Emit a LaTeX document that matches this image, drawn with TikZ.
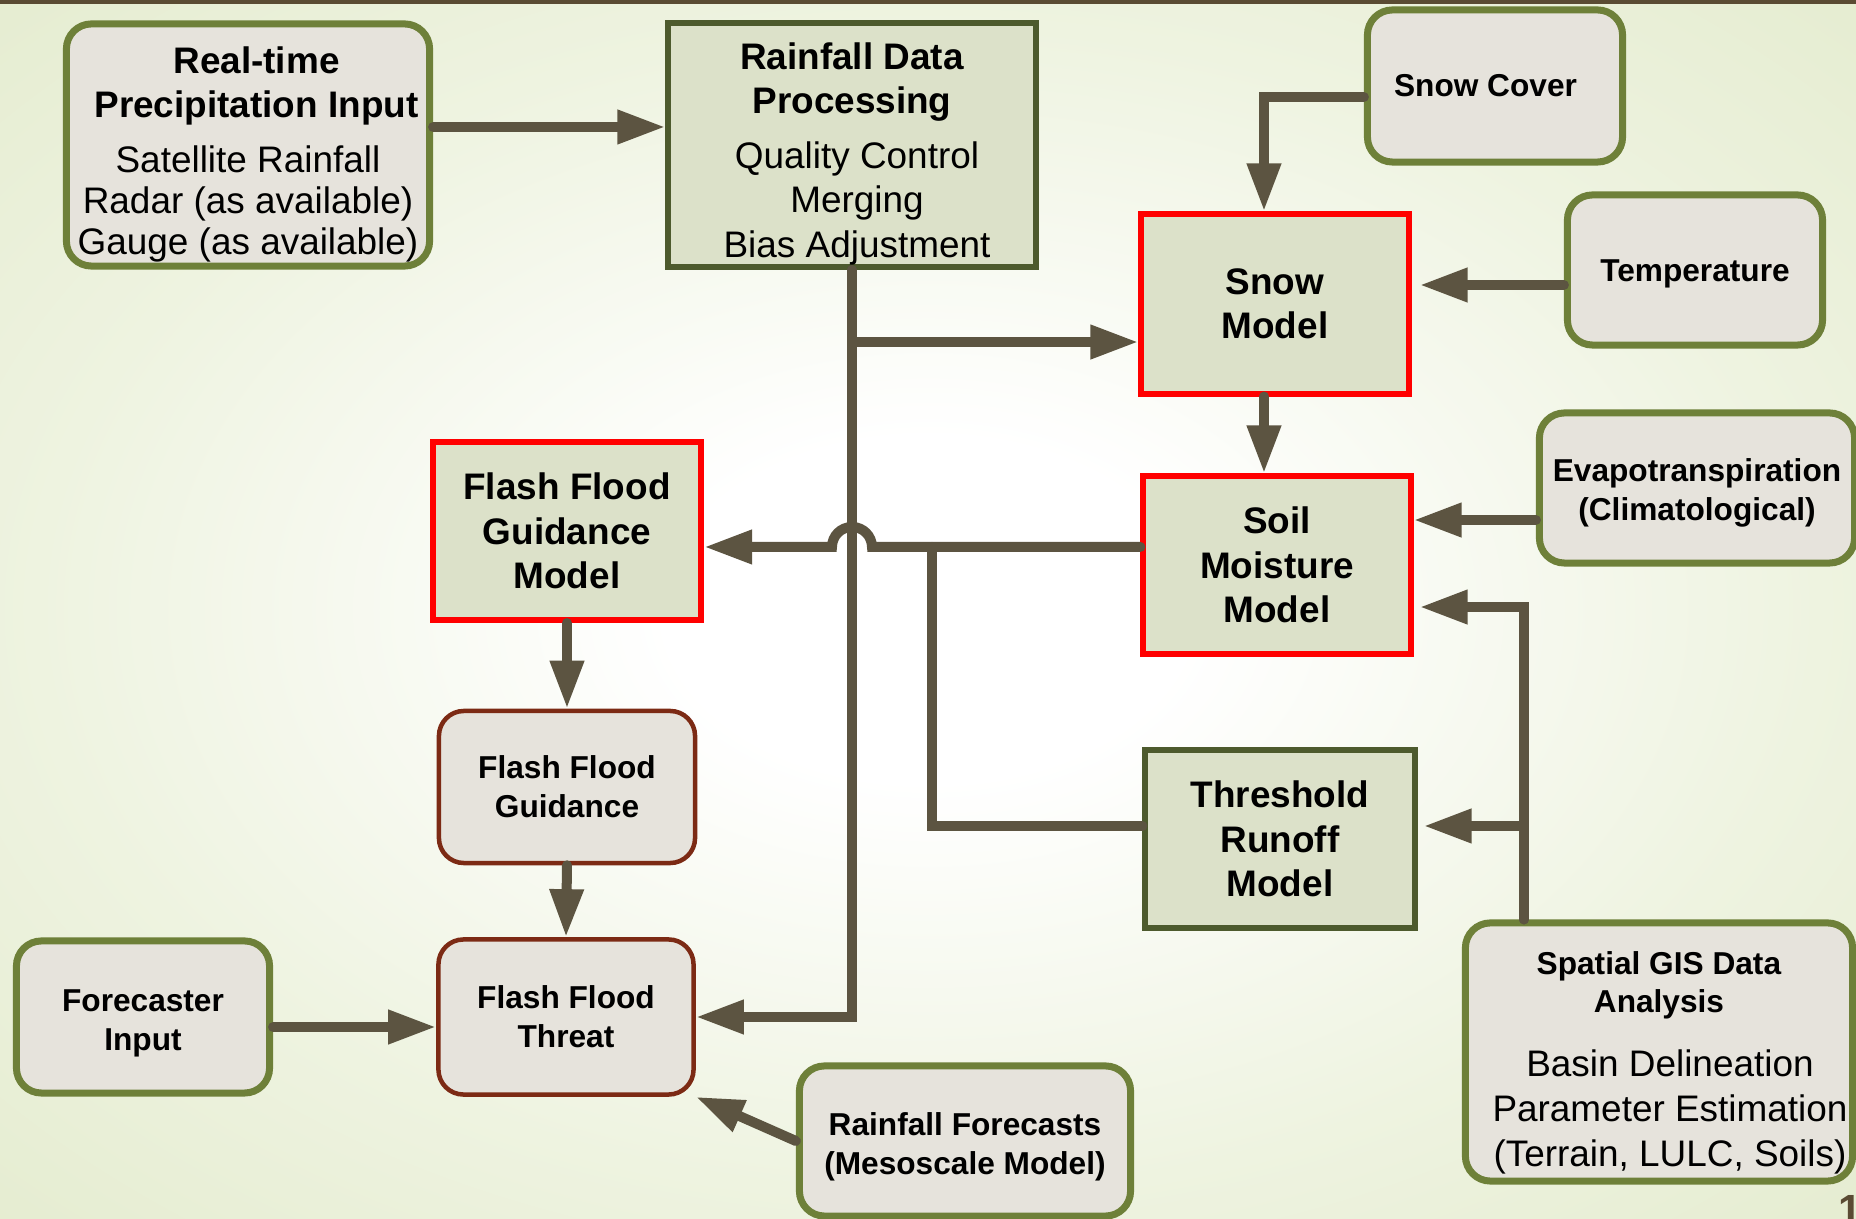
\documentclass[tikz,border=0pt]{standalone}
\usepackage{fontspec}
\setmainfont{Liberation Sans}
\usepackage{xcolor}
\usepackage{tikz}
\usetikzlibrary{arrows.meta,
positioning,
calc}

\definecolor{boxline}{HTML}{6E8039}
\definecolor{boxfill}{HTML}{E6E3DC}
\definecolor{modelline}{HTML}{4D5A2D}
\definecolor{modelfill}{HTML}{DCE1C9}
\definecolor{threatline}{HTML}{7C2A14}
\definecolor{flowcol}{HTML}{5C5441}
\definecolor{topbar}{HTML}{5A4B33}
\definecolor{bglight}{HTML}{EEF3E0}
\definecolor{bgmid}{HTML}{E2EACB}
\definecolor{bggreen}{HTML}{DAE4BB}

\pgfdeclareradialshading{bgglow}{\pgfpoint{0bp}{0bp}}{%
	color(0bp)=(white); color(7bp)=(white); color(24bp)=(bglight);
	color(40bp)=(bgmid); color(50bp)=(bggreen)}

\begin{document}
\begin{tikzpicture}[
		x=0.01cm, y=-0.01cm,
		>={Triangle[length=0.48cm,width=0.32cm]},
		datain/.style={
			draw=boxline,
			fill=boxfill,
			line width=0.07cm,
			rounded corners=0.25cm,
			align=center,
			inner sep=0pt,
			font=\fontsize{9}{11}\selectfont\bfseries
		},
		modelbox/.style={
			draw=modelline,
			fill=modelfill,
			line width=0.06cm,
			align=center,
			inner sep=0pt,
			font=\fontsize{10.5}{12.6}\selectfont\bfseries
		},
		keymodel/.style={
			modelbox,
			draw=red
		},
		product/.style={
			datain,
			draw=threatline,
			line width=0.045cm
		},
		flow/.style={->, draw=flowcol, line width=0.1cm, line cap=round},
		link/.style={flow, -}
		]
		
		% Background
		\shade[shading=bgglow] (0,0) rectangle (1856,1219);
		\fill[topbar] (0,0) rectangle (1856,4);
		\useasboundingbox (0,0) rectangle (1856,1219);
		
		% Inputs
		\node[datain, minimum width=3.63cm, minimum height=2.42cm,
			font=\fontsize{10.5}{12.6}\selectfont] (precip) at (248,145)
		{\rule{0pt}{0.45cm}\hspace*{0.17cm}\textbf{Real-time}\\\hspace*{0.17cm}\textbf{Precipitation Input}\\[3.1pt]Satellite Rainfall\\[-1pt]Radar (as available)\\[-1pt]Gauge (as available)};
		
		\node[modelbox, minimum width=3.67cm, minimum height=2.44cm,
			font=\fontsize{10.5}{12.6}\selectfont] (rainproc) at (852,145)
		{\rule{0pt}{0.44cm}\textbf{Rainfall Data}\\\textbf{Processing}\\[3pt]\hspace*{0.1cm}Quality Control\\\hspace*{0.1cm}Merging\\\hspace*{0.1cm}Bias Adjustment};
		
		\node[datain, minimum width=2.55cm, minimum height=1.52cm] (snowcov) at (1495,86) {Snow Cover\hspace*{0.19cm}};
		\node[datain, minimum width=2.55cm, minimum height=1.50cm] (temp) at (1695,270) {\rule{0pt}{0.30cm}Temperature};
		\node[datain, minimum width=3.15cm, minimum height=1.50cm] (evapo) at (1697,488)
		{\rule{0pt}{0.33cm}Evapotranspiration\\(Climatological)};
		
		% Models
		\node[keymodel, minimum width=2.67cm, minimum height=1.79cm] (snowmod) at (1275,304) {Snow\\Model};
		\node[keymodel, minimum width=2.67cm, minimum height=1.77cm] (soilmod) at (1277,565) {Soil\\Moisture\\Model};
		\node[keymodel, minimum width=2.68cm, minimum height=1.78cm] (ffgmod) at (567,531) {Flash Flood\\Guidance\\Model};
		\node[modelbox, minimum width=2.69cm, minimum height=1.78cm] (runoff) at (1280,839) {Threshold\\Runoff\\Model};
		
		% Products
		\node[product, minimum width=2.56cm, minimum height=1.52cm] (ffg) at (567,787) {Flash Flood\\Guidance};
		\node[product, minimum width=2.55cm, minimum height=1.55cm] (threat) at (566,1017) {Flash Flood\\Threat};
		
		% Other inputs
		\node[datain, minimum width=2.53cm, minimum height=1.52cm] (forecaster) at (143,1017) {\rule{0pt}{0.35cm}Forecaster\\Input};
		\node[datain, minimum width=3.31cm, minimum height=1.50cm] (nwp) at (965,1141)
		{\rule{0pt}{0.35cm}Rainfall Forecasts\\(Mesoscale Model)};
		\node[datain, minimum width=3.87cm, minimum height=2.58cm,
			font=\fontsize{10.5}{12.8}\selectfont] (gis) at (1659,1052)
		{\rule{0pt}{0.45cm}\textbf{\fontsize{9}{11}\selectfont Spatial GIS Data}\\[-2pt]\textbf{\fontsize{9}{11}\selectfont Analysis}\\[5.4pt]\hspace*{0.22cm}Basin Delineation\\\hspace*{0.22cm}Parameter Estimation\\\hspace*{0.22cm}(Terrain, LULC, Soils)};
		
		\node[font=\fontsize{12}{14}\selectfont\bfseries, text=topbar, anchor=north west, inner sep=0pt] (pagenum) at (1838,1195) {1};
		
		% Connections
		\coordinate (hop) at ([yshift=0.18cm]soilmod.west -| rainproc.south);
		
		\draw[flow] ([yshift=0.18cm]precip.east) -- ([yshift=0.18cm]rainproc.west);
		\draw[flow] (rainproc.south) |- (threat.east);
		\draw[flow] (rainproc.south) |- ([yshift=-0.38cm]snowmod.west);
		
		\draw[flow] ([yshift=-0.11cm]snowcov.west) -| ([xshift=-0.11cm]snowmod.north);
		\draw[flow, shorten >=0.08cm] ([yshift=-0.15cm]temp.west) -- ([yshift=-0.15cm]temp.west -| snowmod.east);
		\draw[flow] ([xshift=-0.11cm]snowmod.south) -- ([xshift=-0.11cm]snowmod.south |- soilmod.north);
		\draw[flow] ([yshift=-0.32cm]evapo.west) -- ([yshift=-0.32cm]evapo.west -| soilmod.east);
		
		\draw[flow] ([yshift=0.18cm]soilmod.west) -- ([xshift=0.2cm]hop)
		arc[start angle=0, end angle=180, radius=0.2cm] -- (hop -| ffgmod.east);
		\draw[link] ([yshift=0.13cm]runoff.west) -| ([xshift=0.8cm]hop);
		
		\draw[flow, shorten >=0.06cm] ([xshift=-1.35cm]gis.north) |- ([yshift=-0.42cm]soilmod.east);
		\draw[flow, shorten >=0.06cm] ([xshift=-1.35cm]gis.north) |- ([yshift=0.13cm]runoff.east);
		
		\draw[flow] (ffgmod.south) -- (ffg.north);
		\draw[flow] (ffg.south) -- (threat.north);
		\draw[flow] ([yshift=-0.1cm]forecaster.east) -- ([yshift=-0.1cm]forecaster.east -| threat.west);
		\draw[flow] (nwp.west) -- (threat.south east);
		
	\end{tikzpicture}
\end{document}
